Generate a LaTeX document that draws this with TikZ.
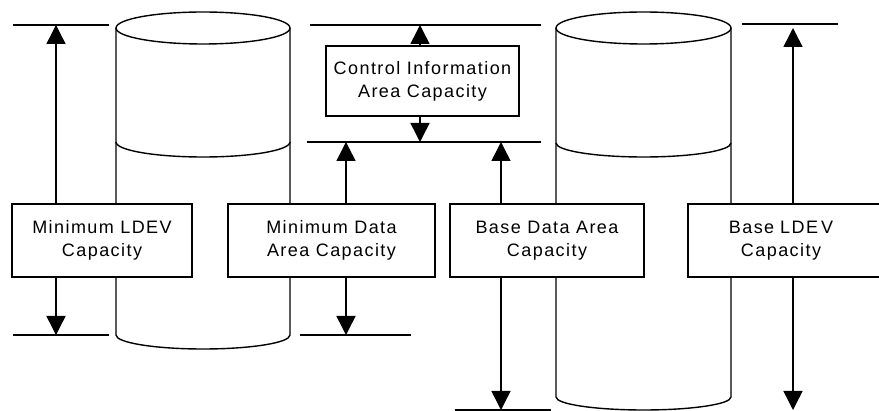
\documentclass[tikz,border=0pt]{standalone}
\usepackage{fontspec}
\setmainfont{Liberation Sans}[LetterSpace=8]
\usetikzlibrary{arrows.meta}
\begin{document}
\begin{tikzpicture}[x=1pt,y=-1pt,line width=1.5pt,
  box/.style={draw,fill=white,inner sep=0pt,align=center,minimum height=73pt,
    font=\fontsize{18}{23}\selectfont},
  dimarrow/.style={-{Triangle[width=19pt,length=19pt]}},
  cyl/.style={draw,line width=1.4pt}]
\useasboundingbox (0,0) rectangle (879,411);
\clip (0,0) rectangle (879,411);

% left cylinder
\draw[cyl] (116,28) -- (116,335) arc[start angle=180,end angle=0,x radius=87,y radius=14] -- (290,28);
\draw[cyl] (203,28) ellipse[x radius=87,y radius=16];
\draw[cyl] (116,142) arc[start angle=180,end angle=0,x radius=87,y radius=15];

% right cylinder
\draw[cyl] (556,28) -- (556,397) arc[start angle=180,end angle=0,x radius=87.5,y radius=13] -- (731,28);
\draw[cyl] (643.5,28) ellipse[x radius=87.5,y radius=16];
\draw[cyl] (556,143) arc[start angle=180,end angle=0,x radius=87.5,y radius=14];

% reference lines
\coordinate (l1a) at (13,25);   \coordinate (l1b) at (109,25);
\coordinate (l2a) at (13,335);  \coordinate (l2b) at (109,335);
\coordinate (l3a) at (310,25);  \coordinate (l3b) at (541,25);
\coordinate (l4a) at (307,142); \coordinate (l4b) at (541,142);
\coordinate (l5a) at (300,335); \coordinate (l5b) at (411,335);
\coordinate (l6a) at (455,410); \coordinate (l6b) at (551,410);
\coordinate (l7a) at (742,24);  \coordinate (l7b) at (838,24);
\foreach \l in {1,...,7} \draw (l\l a) -- (l\l b);

% boxes
\node[box,minimum width=180pt] (minldev) at (102,240.5) {Minimum LDEV\\Capacity};
\node[box,minimum width=207pt] (minda) at (331.5,240.5) {Minimum Data\\Area Capacity};
\node[box,minimum width=193pt,minimum height=70pt] (ctrl) at (422.5,81) {Control Information\\Area Capacity};
\node[box,minimum width=194pt] (bda) at (547,240.5) {Base Data Area\\Capacity};
\node[box,minimum width=192pt,text width=186pt] (bldev) at (784,240.5) {\hspace*{-6pt}Base LDE\kern3pt V\\\hspace*{-6pt}Capacity};

% arrow targets
\coordinate (a1t) at (56,25);   \coordinate (a1b) at (56,335);
\coordinate (a2t) at (420,25);  \coordinate (a2b) at (420,142);
\coordinate (a3t) at (346,142); \coordinate (a3b) at (346,335);
\coordinate (a4t) at (501,142); \coordinate (a4b) at (501,410);
\coordinate (a5t) at (793,28);  \coordinate (a5b) at (793,410);

\draw[dimarrow] (minldev.north -| a1t) -- (a1t);
\draw[dimarrow] (minldev.south -| a1b) -- (a1b);
\draw[dimarrow] (ctrl.north -| a2t) -- (a2t);
\draw[dimarrow] (ctrl.south -| a2b) -- (a2b);
\draw[dimarrow] (minda.north -| a3t) -- (a3t);
\draw[dimarrow] (minda.south -| a3b) -- (a3b);
\draw[dimarrow] (bda.north -| a4t) -- (a4t);
\draw[dimarrow] (bda.south -| a4b) -- (a4b);
\draw[dimarrow] (bldev.north -| a5t) -- (a5t);
\draw[dimarrow] (bldev.south -| a5b) -- (a5b);
\end{tikzpicture}
\end{document}
